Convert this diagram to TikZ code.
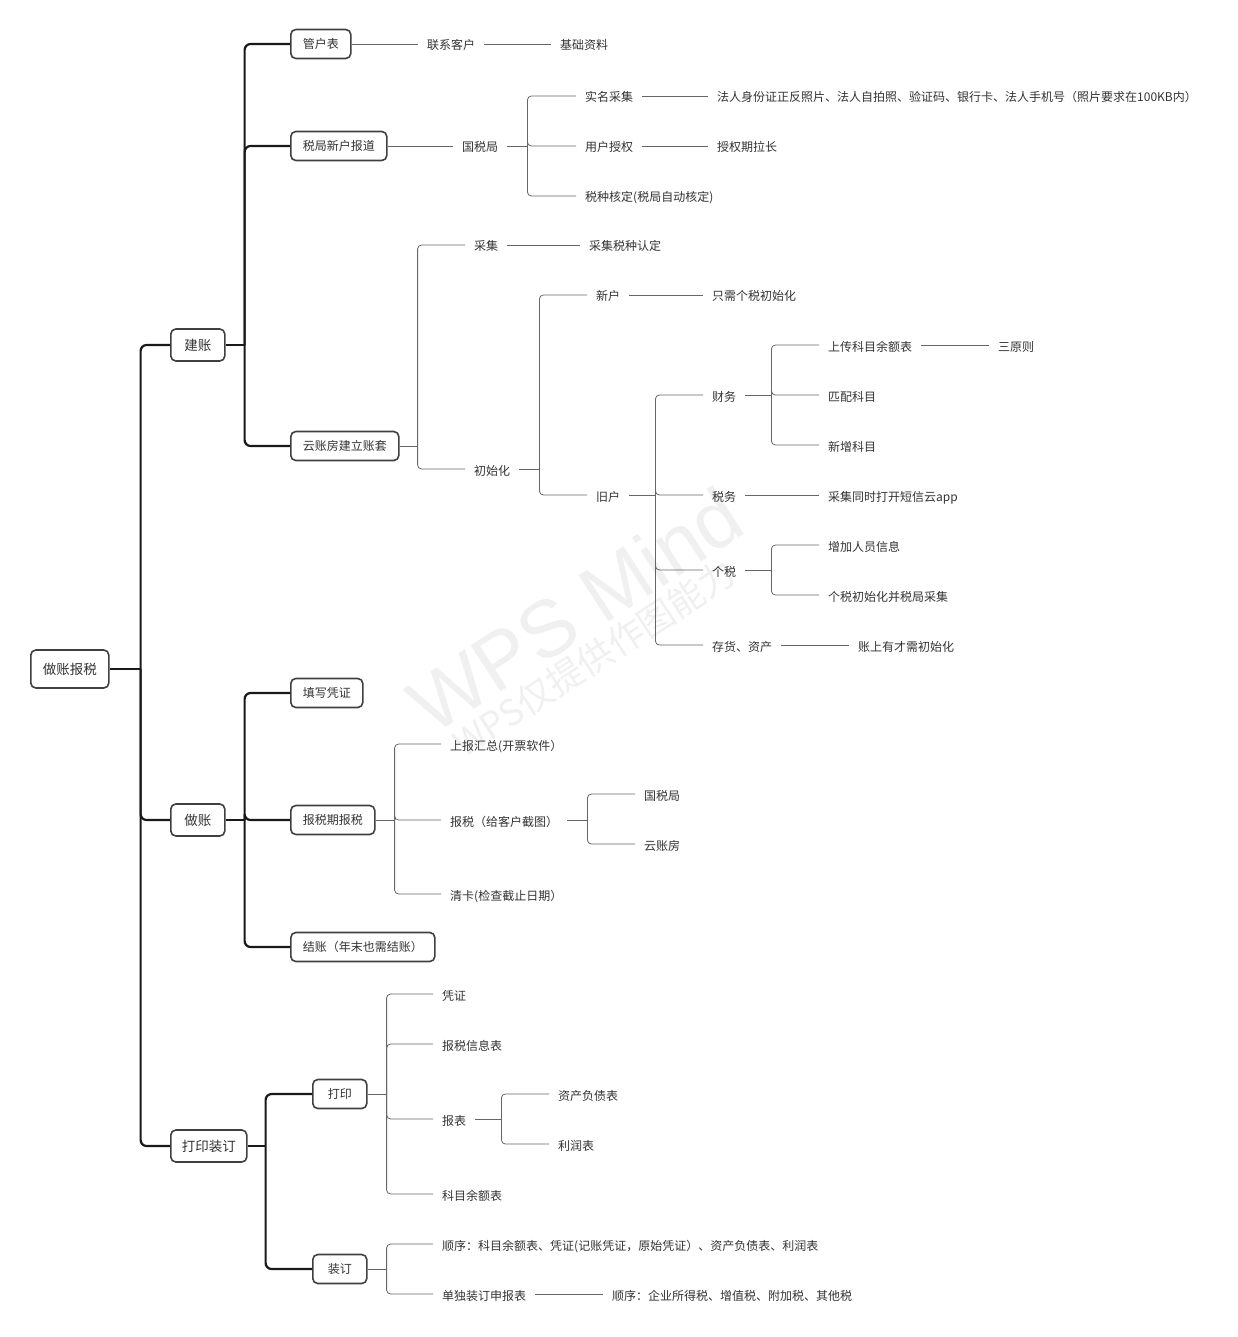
\documentclass[tikz,border=0pt]{standalone}
\usepackage{fontspec}
\newfontfamily\cjk{Noto Sans CJK SC}
\newfontfamily\wmfont{Liberation Sans}

\begin{document}
\begin{tikzpicture}[x=1pt,y=-1pt,
  every node/.style={font=\cjk\fontsize{12}{14}\selectfont, text=black!80},
  rootbox/.style={draw=black!75, line width=1.6pt, rounded corners=5pt, fill=white,
    minimum height=38pt, inner xsep=12pt, anchor=west, font=\cjk\fontsize{13.5}{16}\selectfont},
  mainbox/.style={rootbox, minimum height=32pt, minimum width=54pt, inner xsep=11pt},
  subbox/.style={draw=black!75, line width=1.6pt, rounded corners=5pt, fill=white,
    minimum height=29pt, inner xsep=12pt, anchor=west},
  leaf/.style={inner xsep=9pt, inner ysep=2pt, text height=12pt, text depth=-3pt, anchor=west},
  thick link/.style={line width=2.2pt, draw=black!90, rounded corners=6pt},
  thin link/.style={line width=0.8pt, draw=black!60, rounded corners=4pt}]
\useasboundingbox (0,0) rectangle (1238,1337);

% watermark
\node[rotate=33, text=black!6, font=\wmfont\fontsize{80}{80}\selectfont] (wm) at (575,610) {WPS Mind};
\node[rotate=33, text=black!6, font=\cjk\fontsize{36}{36}\selectfont] (wmsub) at (594,658) {WPS仅提供作图能力};

% root and first level
\node[rootbox] (root) at (30,669) {做账报税};
\node[mainbox] (jz) at (170,345) {建账};
\node[mainbox] (zz) at (170,820) {做账};
\node[mainbox] (dyzd) at (170,1146) {打印装订};

\draw[thick link] (root.east) -- ++(31,0) coordinate (rootb);
\draw[thick link] (rootb) |- (jz.west);
\draw[thick link] (rootb) |- (zz.west);
\draw[thick link] (rootb) |- (dyzd.west);

%% 建账
\node[subbox] (ghb) at (290,44) {管户表};
\node[subbox] (sjxh) at (290,146) {税局新户报道};
\node[subbox] (ykf) at (290,446) {云账房建立账套};

\draw[thick link] (jz.east) -- ++(19,0) coordinate (jzb);
\draw[thick link] (jzb) |- (ghb.west);
\draw[thick link] (jzb) |- (sjxh.west);
\draw[thick link] (jzb) |- (ykf.west);

\node[leaf] (lxkh) at (418,44) {联系客户};
\node[leaf] (jczl) at (551,44) {基础资料};
\draw[thin link] (ghb.east) -- (lxkh.west);
\draw[thin link] (lxkh.east) -- (jczl.west);

\node[leaf] (gsj) at (453,146) {国税局};
\node[leaf] (smcj) at (576,96) {实名采集};
\node[leaf] (yhsq) at (576,146) {用户授权};
\node[leaf] (szhd) at (576,196) {税种核定(税局自动核定)};
\node[leaf] (frzl) at (708,96) {法人身份证正反照片、法人自拍照、验证码、银行卡、法人手机号（照片要求在100KB内）};
\node[leaf] (sqq) at (708,146) {授权期拉长};
\draw[thin link] (sjxh.east) -- (gsj.west);
\draw[thin link] (gsj.east) -- ++(20,0) coordinate (gsjb);
\draw[thin link] (gsjb) |- (smcj.west);
\draw[thin link] (gsjb) |- (yhsq.west);
\draw[thin link] (gsjb) |- (szhd.west);
\draw[thin link] (smcj.east) -- (frzl.west);
\draw[thin link] (yhsq.east) -- (sqq.west);

\node[leaf] (cj) at (465,245) {采集};
\node[leaf] (csh) at (465,469) {初始化};
\node[leaf] (cjrd) at (580,245) {采集税种认定};
\draw[thin link] (ykf.east) -- ++(18,0) coordinate (ykfb);
\draw[thin link] (ykfb) |- (cj.west);
\draw[thin link] (ykfb) |- (csh.west);
\draw[thin link] (cj.east) -- (cjrd.west);

\node[leaf] (xh) at (587,295) {新户};
\node[leaf] (jh) at (587,495) {旧户};
\node[leaf] (zxgs) at (703,295) {只需个税初始化};
\draw[thin link] (csh.east) -- ++(20,0) coordinate (cshb);
\draw[thin link] (cshb) |- (xh.west);
\draw[thin link] (cshb) |- (jh.west);
\draw[thin link] (xh.east) -- (zxgs.west);

\node[leaf] (cw) at (703,395) {财务};
\node[leaf] (sw) at (703,495) {税务};
\node[leaf] (gs) at (703,570) {个税};
\node[leaf] (chzc) at (703,645) {存货、资产};
\draw[thin link] (jh.east) -- ++(26,0) coordinate (jhb);
\draw[thin link] (jhb) |- (cw.west);
\draw[thin link] (jhb) |- (sw.west);
\draw[thin link] (jhb) |- (gs.west);
\draw[thin link] (jhb) |- (chzc.west);

\node[leaf] (scye) at (819,345) {上传科目余额表};
\node[leaf] (ppkm) at (819,395) {匹配科目};
\node[leaf] (xzkm) at (819,445) {新增科目};
\node[leaf] (syz) at (989,345) {三原则};
\draw[thin link] (cw.east) -- ++(26,0) coordinate (cwb);
\draw[thin link] (cwb) |- (scye.west);
\draw[thin link] (cwb) |- (ppkm.west);
\draw[thin link] (cwb) |- (xzkm.west);
\draw[thin link] (scye.east) -- (syz.west);

\node[leaf] (cjdx) at (819,495) {采集同时打开短信云app};
\draw[thin link] (sw.east) -- (cjdx.west);

\node[leaf] (zjry) at (819,545) {增加人员信息};
\node[leaf] (gscs) at (819,595) {个税初始化并税局采集};
\draw[thin link] (gs.east) -- ++(26,0) coordinate (gsb);
\draw[thin link] (gsb) |- (zjry.west);
\draw[thin link] (gsb) |- (gscs.west);

\node[leaf] (zsyc) at (849,645) {账上有才需初始化};
\draw[thin link] (chzc.east) -- (zsyc.west);

%% 做账
\node[subbox] (txpz) at (290,693) {填写凭证};
\node[subbox] (bsq) at (290,820) {报税期报税};
\node[subbox] (jiez) at (290,947) {结账（年末也需结账）};

\draw[thick link] (zz.east) -- ++(19,0) coordinate (zzb);
\draw[thick link] (zzb) |- (txpz.west);
\draw[thick link] (zzb) |- (bsq.west);
\draw[thick link] (zzb) |- (jiez.west);

\node[leaf] (sbhz) at (441,744) {上报汇总(开票软件）};
\node[leaf] (bs) at (441,820) {报税（给客户截图）};
\node[leaf] (qk) at (441,894) {清卡(检查截止日期）};
\draw[thin link] (bsq.east) -- ++(19,0) coordinate (bsqb);
\draw[thin link] (bsqb) |- (sbhz.west);
\draw[thin link] (bsqb) |- (bs.west);
\draw[thin link] (bsqb) |- (qk.west);

\node[leaf] (gsjb2) at (635,794) {国税局};
\node[leaf] (yzf) at (635,844) {云账房};
\draw[thin link] (bs.east) -- ++(20,0) coordinate (bsb);
\draw[thin link] (bsb) |- (gsjb2.west);
\draw[thin link] (bsb) |- (yzf.west);

%% 打印装订
\node[subbox, minimum width=54pt] (dy) at (312,1094) {打印};
\node[subbox, minimum width=54pt] (zd) at (312,1269) {装订};

\draw[thick link] (dyzd.east) -- ++(18,0) coordinate (dyzdb);
\draw[thick link] (dyzdb) |- (dy.west);
\draw[thick link] (dyzdb) |- (zd.west);

\node[leaf] (pz) at (433,994) {凭证};
\node[leaf] (bsxx) at (433,1044) {报税信息表};
\node[leaf] (bb) at (433,1119) {报表};
\node[leaf] (kmye) at (433,1194) {科目余额表};
\draw[thin link] (dy.east) -- ++(19,0) coordinate (dyb);
\draw[thin link] (dyb) |- (pz.west);
\draw[thin link] (dyb) |- (bsxx.west);
\draw[thin link] (dyb) |- (bb.west);
\draw[thin link] (dyb) |- (kmye.west);

\node[leaf] (zcfz) at (549,1094) {资产负债表};
\node[leaf] (lrb) at (549,1144) {利润表};
\draw[thin link] (bb.east) -- ++(26,0) coordinate (bbb);
\draw[thin link] (bbb) |- (zcfz.west);
\draw[thin link] (bbb) |- (lrb.west);

\node[leaf] (sx1) at (433,1244) {顺序：科目余额表、凭证(记账凭证，原始凭证）、资产负债表、利润表};
\node[leaf] (ddzd) at (433,1294) {单独装订申报表};
\node[leaf] (sx2) at (603,1294) {顺序：企业所得税、增值税、附加税、其他税};
\draw[thin link] (zd.east) -- ++(19,0) coordinate (zdb);
\draw[thin link] (zdb) |- (sx1.west);
\draw[thin link] (zdb) |- (ddzd.west);
\draw[thin link] (ddzd.east) -- (sx2.west);
\end{tikzpicture}
\end{document}
